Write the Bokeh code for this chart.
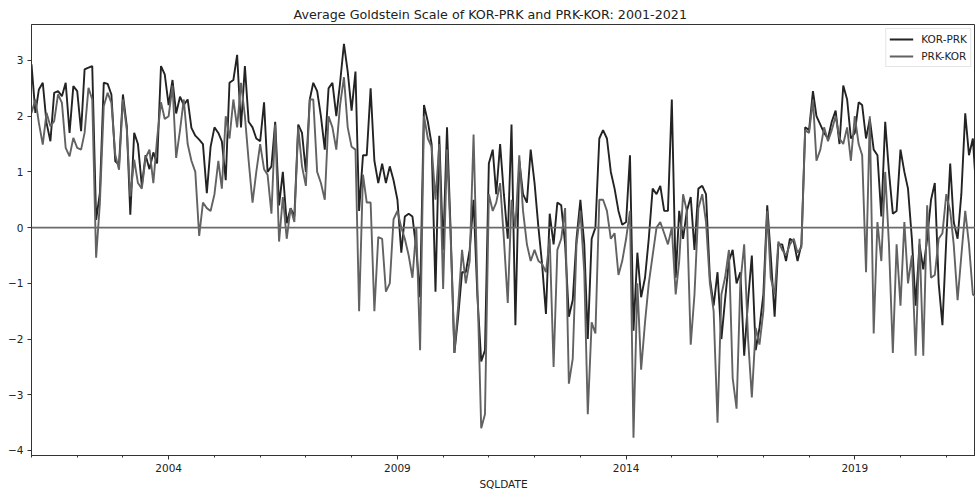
import pandas as pd
from bokeh.plotting import figure
from bokeh.models import FixedTicker, DatetimeTickFormatter, Span, Legend, LegendItem, Range1d
from bokeh.embed import file_html
from bokeh.resources import INLINE

title_text = "Average Goldstein Scale of KOR-PRK and PRK-KOR: 2001-2021"
series_names = ["KOR-PRK", "PRK-KOR"]
x_label = "SQLDATE"
start_month = "2001-01-01"
end_view = "2021-08-22"
year_ticks = [2004, 2009, 2014, 2019]
minor_years = list(range(2001, 2022))
y_ticks = [-4, -3, -2, -1, 0, 1, 2, 3]

kor_prk = [
    2.93, 2.06, 2.48, 2.6, 1.88, 1.55, 2.42, 2.45, 2.36, 2.6, 1.7, 2.54, 2.45, 1.73, 2.84, 2.87, 2.9, 0.14, 0.62, 2.6,
    2.58, 2.39, 1.19, 1.13, 2.39, 1.82, 0.23, 1.7,
    1.5, 0.75, 1.3, 1.05, 1.35, 1.15, 2.9, 2.75, 2.2, 2.65, 2.05, 2.35, 2.2, 2.3, 1.79, 1.65, 1.58, 1.5, 0.62, 1.45,
    1.8, 1.7, 1.55, 0.85, 2.6, 2.65, 3.1, 1.8, 2.9,
    1.9, 1.8, 1.6, 1.55, 2.25, 1.0, 1.1, 1.9, 0.4, 1.0, 0.08, 0.35, 0.2, 1.85, 1.7, 1.0, 2.3, 2.6, 2.45, 2.0, 1.4, 2.5,
    2.6, 2.0, 2.6, 3.3, 2.8, 2.1,
    2.8, 0.3, 1.3, 1.3, 2.5, 1.2, 0.8, 1.15, 0.8, 1.1, 0.85, 0.5, -0.45, 0.2, 0.25, 0.2, -0.4, -1.25, 2.2, 1.9, 1.5,
    -1.15, 1.65, -0.4, 1.8, 0.0, -2.25, -1.6,
    -0.8, -0.8, -0.4, 0.5, -1.2, -2.4, -2.2, 1.15, 1.4, 0.6, 1.5, 0.6, -0.2, 1.85, -1.75, 1.2, 0.6, 0.45, 1.4, 0.8,
    0.0, -0.65, -1.55, 0.25, -0.3, 0.45, 0.4, -0.3, -1.6,
    -1.3, -0.2, 0.5, -0.3, -2.0, -0.2, 0.0, 1.6, 1.75, 1.6, 1.0, 0.7, 0.3, 0.05, 0.1, 1.3, -1.85, -0.45, -1.25, -0.9,
    -0.2, 0.7, 0.6, 0.75, 0.3, 0.3, 2.3, -0.9,
    0.3, -0.2, 0.3, 0.55, -0.4, 0.7, 0.75, 0.6, -0.9, -1.4, -0.8, -2.0, -1.3, -0.6, -0.4, -1.0, -0.8, -2.3, -1.3, -0.5,
    -2.2, -1.8, -1.2, 0.4, -0.5, -1.6, -0.3, -0.3, -0.6, -0.2,
    -0.25, -0.6, -0.3, 1.8, 1.75, 2.45, 2.0, 1.85, 1.7, 1.6, 1.9, 2.1, 1.5, 2.55, 2.3, 1.6, 1.7, 2.25, 2.2, 1.6, 1.95,
    1.4, 1.3, 0.2, 1.9, 1.0, 0.25, 0.3, 1.4, 1.0, 0.7, -0.2, -1.4, -0.3, -0.75, -0.2, 0.5, 0.8, -1.0, -1.75, -0.2,
    1.15, 0.1, -0.2, 0.6, 2.05, 1.3, 1.6, 0.5,
]

prk_kor = [
    2.06, 2.3, 1.88, 1.49, 2.06, 1.82, 1.91, 2.39, 2.24, 1.43, 1.28, 1.61, 1.43, 1.4, 1.7, 2.51, 2.3, -0.54, 0.44, 2.18,
    2.42, 2.24, 1.31, 1.04, 2.3, 1.76, 0.56, 1.22,
    0.8, 0.7, 1.25, 1.4, 0.8, 1.6, 2.25, 1.95, 2.0, 2.55, 1.25, 1.75, 2.3, 1.5, 1.2, 1.0, -0.15, 0.45, 0.35, 0.3,
    0.6, 1.2, 0.7, 2.0, 1.6, 2.3, 1.8, 2.6, 2.0,
    1.2, 0.45, 1.0, 1.5, 1.05, 0.95, 0.25, 1.85, -0.25, 0.55, -0.2, 0.35, 0.1, 1.8, 1.1, 0.75, 2.3, 2.3, 1.0, 0.8, 0.5,
    2.0, 1.8, 1.4, 2.2, 2.7, 1.8, 1.45,
    1.4, -1.5, 0.95, 0.45, 0.45, -1.5, -0.17, -0.2, -1.15, -1.0, 0.15, 0.3, 0.0, -0.2, -0.5, -0.9, 0.0, -2.2, 2.0, 1.6,
    1.45, 0.5, 1.5, -1.1, 1.4, -0.1, -2.25, -1.4,
    -0.4, -1.0, -0.6, 1.67, -1.0, -3.6, -3.35, 0.6, 0.3, 0.45, 0.8, -0.2, -1.35, 0.5, 0.0, 1.3, 0.3, -0.3, -0.6, -0.4,
    -0.6, -0.65, -0.8, -0.2, -2.5, -0.4, -0.2, 0.35, -2.8,
    -2.35, -0.3, 0.3, -0.8, -3.35, -1.7, -1.9, 0.5, 0.5, 0.3, -0.2, -0.1, -0.85, -0.6, -0.2, 0.3, -3.77, -1.0, -2.55,
    -1.7, -1.0, -0.5, 0.0, 0.1, -0.1, -0.3, 0.0, -1.2,
    -0.6, 0.6, 0.3, -2.1, -1.2, 0.35, 0.6, 0.1, -1.0, -1.5, -3.5, -1.2, -0.9, -0.4, -2.7, -3.25, -1.0, -0.3, -2.0,
    -3.05, -1.8, -2.1, -1.5, 0.3, -0.9, -1.2, -0.25, -0.4, -0.5, -0.3,
    -0.2, -0.45, -0.35, 1.75, 1.7, 2.3, 1.2, 1.4, 1.8, 1.55, 1.75, 2.0, 1.6, 1.5, 1.8, 1.2, 2.0, 1.5, 1.3, -0.8, 2.0,
    -1.9, 0.1, -0.6, 1.0, -0.3, -2.25, -0.3, -1.4, 0.1, -1.0, -0.5, -2.3, -0.2, -2.3, 0.4, -0.9, -0.85, -0.2, -0.1,
    0.6, 0.3, -0.3, -1.3, -0.5, 0.3, -0.3, -1.2, -1.25,
]

n = min(len(kor_prk), len(prk_kor))
dates = pd.date_range(start_month, periods=n, freq="MS")

def ms(ts):
    return pd.Timestamp(ts).value / 1e6

p = figure(width=975, height=493, x_axis_type="datetime", output_backend="svg",
           toolbar_location=None, x_range=Range1d(ms(start_month), ms(end_view)),
           y_range=Range1d(-4.09, 3.646), min_border_left=31, min_border_right=0,
           min_border_top=24, min_border_bottom=38)

p.title.text = title_text
p.title.align = "left"
p.title.offset = 262
p.title.text_font = "DejaVu Sans"
p.title.text_font_size = "12.7px"
p.title.text_font_style = "normal"
p.title.text_color = "#222222"
p.title.standoff = 5

p.xgrid.visible = False
p.ygrid.visible = False
p.outline_line_color = "#333333"
p.outline_line_width = 1

p.xaxis.ticker = FixedTicker(ticks=[ms(f"{y}-01-01") for y in year_ticks],
                             minor_ticks=[ms(f"{y}-01-01") for y in minor_years])
p.xaxis.formatter = DatetimeTickFormatter(years="%Y", months="%Y", days="%Y")
p.xaxis.axis_label = x_label
p.yaxis.ticker = FixedTicker(ticks=y_ticks, minor_ticks=[])
p.yaxis.major_label_overrides = {t: (str(t) if t >= 0 else "\u2212" + str(-t)) for t in y_ticks}

for ax in (p.xaxis, p.yaxis):
    ax.axis_line_color = "#333333"
    ax.major_tick_line_color = "#333333"
    ax.minor_tick_line_color = "#333333"
    ax.major_tick_in = 0
    ax.major_tick_out = 4
    ax.minor_tick_in = 0
    ax.minor_tick_out = 2
    ax.major_label_text_font = "DejaVu Sans"
    ax.major_label_text_font_size = "10.5px"
    ax.major_label_text_color = "#222222"
    ax.axis_label_text_font = "DejaVu Sans"
    ax.axis_label_text_font_size = "10.5px"
    ax.axis_label_text_font_style = "normal"
    ax.axis_label_text_color = "#222222"
    ax.major_label_standoff = 4
    ax.axis_label_standoff = 3

zero = Span(location=0, dimension="width", line_color="#6a6a6a", line_width=1.6)
p.add_layout(zero)

r1 = p.line(dates[:n], kor_prk[:n], line_color="#232323", line_width=1.9)
r2 = p.line(dates[:n], prk_kor[:n], line_color="#626262", line_width=1.9)

legend = Legend(items=[LegendItem(label=series_names[0], renderers=[r1]),
                       LegendItem(label=series_names[1], renderers=[r2])],
                location="top_right")
legend.label_text_font = "DejaVu Sans"
legend.label_text_font_size = "10.5px"
legend.label_text_color = "#222222"
legend.border_line_color = "#cccccc"
legend.border_line_width = 1
legend.glyph_width = 24
legend.glyph_height = 14
legend.label_height = 14
legend.spacing = 3
legend.padding = 3
legend.margin = 4
legend.label_standoff = 8
p.add_layout(legend)

open("out.html", "w").write(file_html(p, INLINE))
